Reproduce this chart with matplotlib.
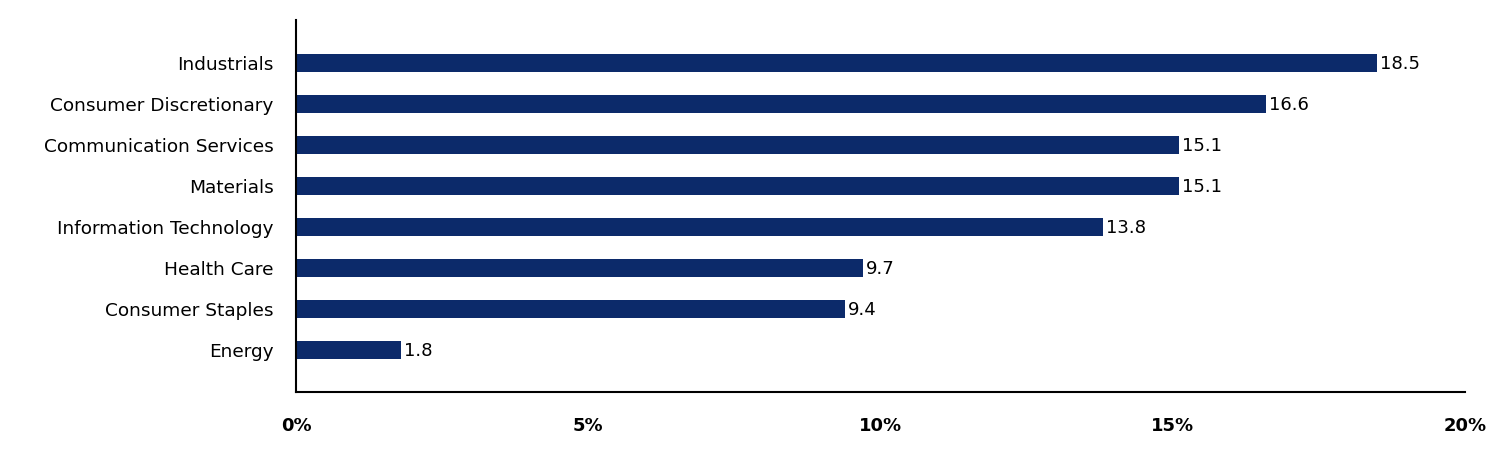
import matplotlib
matplotlib.use("Agg")
import matplotlib.pyplot as plt
from matplotlib.ticker import FuncFormatter

# data
sectors = ["Energy", "Consumer Staples", "Health Care", "Information Technology",
           "Materials", "Communication Services", "Consumer Discretionary", "Industrials"]
values = [1.8, 9.4, 9.7, 13.8, 15.1, 15.1, 16.6, 18.5]
xticks = [0, 5, 10, 15, 20]

fig = plt.figure(figsize=(15.12, 4.68), dpi=100)
ax = fig.add_axes([296 / 1512, 1 - 392 / 468, (1465 - 296) / 1512, (392 - 20) / 468])

pos = list(range(len(sectors)))
ax.barh(pos, values, height=0.44, color="#0c2a6a")
for p, v in zip(pos, values):
    ax.text(v + 0.05, p - 0.03, f"{v:.1f}", va="center", ha="left", fontsize=13, color="black")

ax.set_yticks(pos)
ax.set_yticklabels(sectors, fontsize=13.3)
ax.set_xticks(xticks)
ax.xaxis.set_major_formatter(FuncFormatter(lambda x, _: f"{x:.0f}%"))
for lbl in ax.get_xticklabels():
    lbl.set_fontweight("bold")
    lbl.set_fontsize(13)
ax.tick_params(axis="both", length=0)
ax.tick_params(axis="x", pad=18)
ax.tick_params(axis="y", pad=16)

ax.set_xlim(0, 20)
ax.set_ylim(-1.02, 8.05)
ax.spines["top"].set_visible(False)
ax.spines["right"].set_visible(False)
ax.spines["left"].set_linewidth(1.5)
ax.spines["bottom"].set_linewidth(1.5)

fig.savefig("out.png", dpi=100)
